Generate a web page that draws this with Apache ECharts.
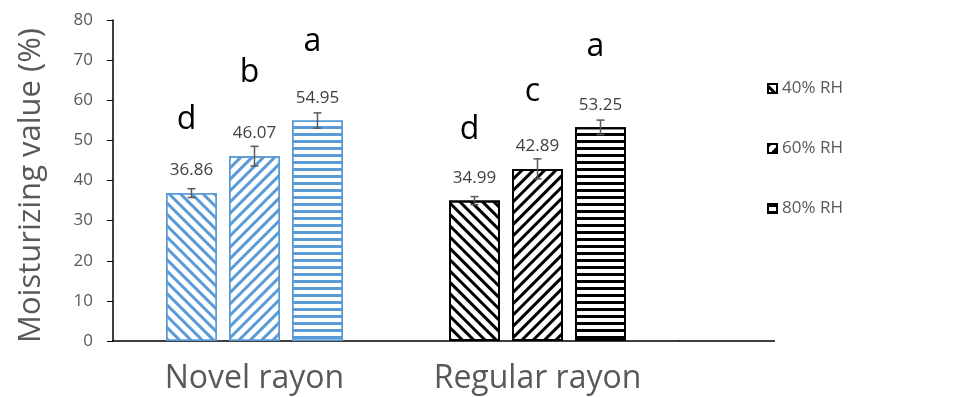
<!DOCTYPE html>
<html>
<head>
<meta charset="utf-8">
<script src="https://cdn.jsdelivr.net/npm/echarts@6/dist/echarts.min.js"></script>
<style>
  html, body { margin: 0; padding: 0; background: #fff; }
  #main { width: 963px; height: 397px; }
</style>
</head>
<body>
<div id="main"></div>
<script>
// data
var categories = ['Novel rayon', 'Regular rayon'];
var seriesNames = ['40% RH', '60% RH', '80% RH'];
var rh40 = [36.86, 34.99];
var rh60 = [46.07, 42.89];
var rh80 = [54.95, 53.25];
// error bars (+/-)
var err40 = [1.1, 1.0];
var err60 = [2.45, 2.5];
var err80 = [1.9, 1.8];
// significance letters and the height (in % units) they sit at
var letters40 = ['d', 'd'];
var letters60 = ['b', 'c'];
var letters80 = ['a', 'a'];
var letterY40 = [55.1, 52.6];
var letterY60 = [66.8, 62.1];
var letterY80 = [74.6, 73.3];

var values = [rh40, rh60, rh80];
var errors = [err40, err60, err80];
var letters = [letters40, letters60, letters80];
var letterY = [letterY40, letterY60, letterY80];

var BLUE = '#5B9BD5';
var barW = 51, gapW = 12;
var rotations = [Math.PI / 4, -Math.PI / 4, 0];

function decalFor(lvl, color) {
  if (lvl === 2) {
    return { symbol: 'rect', symbolSize: 1, dashArrayX: [1, 0], dashArrayY: [3, 4], rotation: 0, color: color };
  }
  return { symbol: 'rect', symbolSize: 1, dashArrayX: [1, 0], dashArrayY: [3, 5], rotation: rotations[lvl], color: color };
}

var series = [];
seriesNames.forEach(function (name, lvl) {
  series.push({
    name: name,
    type: 'bar',
    barWidth: barW,
    barGap: (gapW / barW * 100) + '%',
    itemStyle: { color: '#fff', borderColor: '#000', borderWidth: 2, decal: decalFor(lvl, '#000') },
    label: {
      show: true, position: 'top', distance: 14,
      color: '#404040', fontSize: 17, fontFamily: 'Open Sans',
      formatter: function (p) { return p.value.toFixed(2); }
    },
    data: values[lvl].map(function (v, c) {
      if (c === 0) {
        return { value: v, itemStyle: { color: '#fff', borderColor: BLUE, borderWidth: 1.5, decal: decalFor(lvl, BLUE) } };
      }
      return v;
    })
  });
});

var errData = [], letterData = [];
for (var lvl = 0; lvl < 3; lvl++) {
  for (var c = 0; c < categories.length; c++) {
    errData.push([c, lvl, values[lvl][c], errors[lvl][c]]);
    letterData.push([c, lvl, letterY[lvl][c], letters[lvl][c]]);
  }
}

series.push({
  type: 'custom',
  silent: true,
  encode: { x: 0, y: 2 },
  z: 5,
  renderItem: function (params, api) {
    var c = api.value(0), lvl = api.value(1), m = api.value(2), e = api.value(3);
    var off = (lvl - 1) * (barW + gapW);
    var top = api.coord([c, m + e]);
    var bot = api.coord([c, m - e]);
    var x = top[0] + off;
    var st = { stroke: '#595959', lineWidth: 1.5 };
    return {
      type: 'group',
      children: [
        { type: 'line', shape: { x1: x, y1: top[1], x2: x, y2: bot[1] }, style: st },
        { type: 'line', shape: { x1: x - 4, y1: top[1], x2: x + 4, y2: top[1] }, style: st },
        { type: 'line', shape: { x1: x - 4, y1: bot[1], x2: x + 4, y2: bot[1] }, style: st }
      ]
    };
  },
  data: errData
});

series.push({
  type: 'custom',
  silent: true,
  encode: { x: 0, y: 2 },
  renderItem: function (params, api) {
    var c = api.value(0), lvl = api.value(1);
    var p = api.coord([c, api.value(2)]);
    var off = (lvl - 1) * (barW + gapW) - 5;
    return {
      type: 'text',
      style: {
        x: p[0] + off, y: p[1],
        text: letterData[params.dataIndex][3],
        fill: '#000', fontSize: 32, fontFamily: 'Open Sans',
        align: 'center', verticalAlign: 'middle'
      }
    };
  },
  data: letterData
});

var chart = echarts.init(document.getElementById('main'));
chart.setOption({
  backgroundColor: '#fff',
  animation: false,
  grid: { left: 113, right: 284, top: 20, bottom: 56 },
  legend: {
    orient: 'vertical',
    left: 762, top: 75,
    itemGap: 43, itemWidth: 9, itemHeight: 9,
    icon: 'rect',
    data: seriesNames,
    textStyle: { color: '#595959', fontSize: 17, fontFamily: 'Open Sans' }
  },
  xAxis: {
    type: 'category',
    data: categories,
    axisLine: { lineStyle: { color: '#000', width: 1.5 } },
    axisTick: { show: false },
    axisLabel: { color: '#595959', fontSize: 32, fontFamily: 'Open Sans', margin: 22 }
  },
  yAxis: {
    type: 'value',
    min: 0, max: 80, interval: 10,
    name: 'Moisturizing value (%)',
    nameLocation: 'middle',
    nameGap: 66,
    nameTextStyle: { color: '#595959', fontSize: 31, fontFamily: 'Open Sans', padding: [0, 10, 0, 0] },
    axisLine: { show: true, lineStyle: { color: '#000', width: 1.5 } },
    axisTick: { show: true, length: 6, lineStyle: { color: '#000' } },
    axisLabel: { color: '#595959', fontSize: 17, fontFamily: 'Open Sans', margin: 20 },
    splitLine: { show: false }
  },
  graphic: [{
    type: 'line',
    shape: { x1: 679, y1: 341, x2: 775, y2: 341 },
    style: { stroke: '#000', lineWidth: 1.5 }
  }],
  series: series
});
</script>
</body>
</html>
